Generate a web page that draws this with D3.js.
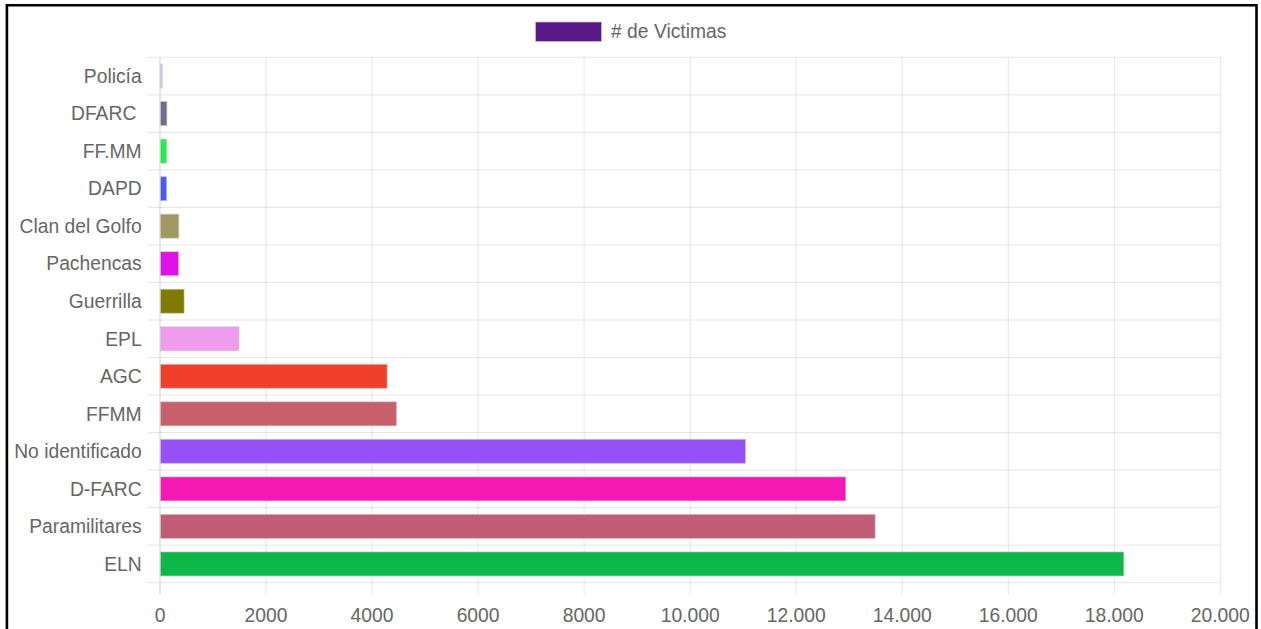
<!DOCTYPE html>
<html>
<head>
<meta charset="utf-8">
<script src="https://cdn.jsdelivr.net/npm/d3@7"></script>
<style>
html,body{margin:0;padding:0;background:#fff;}
svg{display:block;}
text{font-family:"Liberation Sans",Arial,sans-serif;fill:#666;}
</style>
</head>
<body>
<svg id="chart" width="1261" height="629"></svg>
<script>
const categories = ["Policía","DFARC ","FF.MM","DAPD","Clan del Golfo","Pachencas","Guerrilla","EPL","AGC","FFMM","No identificado","D-FARC","Paramilitares","ELN"];
const victimas = [45,130,125,125,355,350,455,1490,4285,4460,11045,12935,13490,18180];
const barColors = ["#d2c8e6","#6e6e8c","#1ef24a","#4a5cf0","#a09a60","#e010e8","#7f7a00","#f09ced","#f0402c","#c8606c","#9650f8","#f418b4","#c05c74","#0cb848"];
const xTickValues = [0,2000,4000,6000,8000,10000,12000,14000,16000,18000,20000];
const xTickLabels = ["0","2000","4000","6000","8000","10.000","12.000","14.000","16.000","18.000","20.000"];
const seriesName = "# de Victimas";
const seriesColor = "#581888";

(function(){
const svg = d3.select("#chart");
const W = 1261, H = 629;
const pLeft = 160, pRight = 1220.3, pTop = 57.3, pBottom = 582.7;
const fontSize = 19.3;

// frame
svg.append("path")
  .attr("d", `M6.9,${H+5} V5.3 H1256.5 V${H+5}`)
  .attr("fill","none").attr("stroke","#000").attr("stroke-width",2.6);

const x = d3.scaleLinear().domain([0,20000]).range([pLeft,pRight]);
const y = d3.scaleBand().domain(categories).range([pTop,pBottom]).paddingInner(0.36).paddingOuter(0.18);
const step = y.step();
const gap = (step - y.bandwidth())/2;

const grid = svg.append("g");
const bounds = categories.map(c => y(c) - gap).concat([pBottom]);
grid.selectAll("line.h").data(bounds).join("line")
  .attr("class","h")
  .attr("x1", pLeft - 12.5).attr("x2", pRight)
  .attr("y1", d => d).attr("y2", d => d)
  .attr("stroke","rgba(0,0,0,0.1)").attr("stroke-width",1);
grid.selectAll("line.v").data(xTickValues).join("line")
  .attr("class","v")
  .attr("x1", d => x(d)).attr("x2", d => x(d))
  .attr("y1", pTop).attr("y2", pBottom + 12)
  .attr("stroke", d => d === 0 ? "rgba(0,0,0,0.18)" : "rgba(0,0,0,0.1)").attr("stroke-width",1);

svg.append("g").selectAll("rect").data(categories).join("rect")
  .attr("x", x(0) + 0.5)
  .attr("y", d => y(d))
  .attr("width", (d,i) => Math.max(0, x(victimas[i]) - x(0) - 0.5))
  .attr("height", y.bandwidth())
  .attr("fill", (d,i) => barColors[i])
  .attr("stroke","rgba(200,200,200,0.6)").attr("stroke-width",1);

svg.append("g").selectAll("text").data(categories).join("text")
  .attr("x", 141.7)
  .attr("y", d => y(d) + y.bandwidth()/2)
  .attr("dy","0.35em")
  .attr("text-anchor","end")
  .style("white-space","pre")
  .attr("font-size", fontSize)
  .text(d => d);

svg.append("g").selectAll("text").data(xTickValues).join("text")
  .attr("x", d => x(d))
  .attr("y", 622)
  .attr("text-anchor","middle")
  .attr("font-size", fontSize)
  .text((d,i) => xTickLabels[i]);

const lg = svg.append("g");
lg.append("rect").attr("x",535.5).attr("y",22).attr("width",66).attr("height",19.5)
  .attr("fill",seriesColor).attr("stroke","rgba(200,200,200,0.7)").attr("stroke-width",1);
lg.append("text").attr("x",611).attr("y",31.5).attr("dy","0.35em")
  .attr("font-size",fontSize).text(seriesName);
})();
</script>
</body>
</html>
